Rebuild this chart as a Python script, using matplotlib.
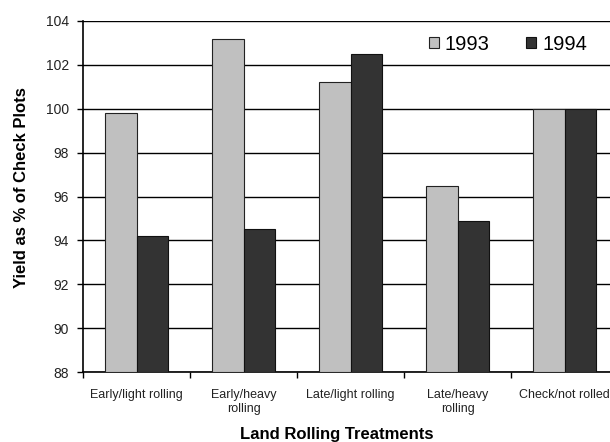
import matplotlib
matplotlib.use("Agg")
import matplotlib.pyplot as plt
import numpy as np

categories = ["Early/light rolling", "Early/heavy\nrolling", "Late/light rolling",
              "Late/heavy\nrolling", "Check/not rolled"]
y1993 = [99.8, 103.2, 101.2, 96.5, 100.0]
y1994 = [94.2, 94.5, 102.5, 94.9, 100.0]
yticks = [88, 90, 92, 94, 96, 98, 100, 102, 104]

plt.rcParams['font.family'] = ['Liberation Sans', 'DejaVu Sans']

W, H = 610, 442
fig = plt.figure(figsize=(W / 100, H / 100), dpi=100)
ax = fig.add_axes([83 / W, 1 - 372 / H, (618 - 83) / W, (372 - 21) / H])

x = np.arange(len(categories))
bw = 0.29
ax.bar(x - bw / 2, np.array(y1993) - 88, bw, bottom=88, color="#c0c0c0",
       edgecolor="#222222", linewidth=0.8, label="1993", zorder=3)
ax.bar(x + bw / 2, np.array(y1994) - 88, bw, bottom=88, color="#333333",
       edgecolor="#111111", linewidth=0.8, label="1994", zorder=3)

ax.set_xlim(-0.5, len(categories) - 0.5)
ax.set_ylim(88, 104)
ax.set_yticks(yticks)
ax.set_yticklabels([str(t) for t in yticks], fontsize=10, color="#222222")
ax.yaxis.grid(True, color="black", linewidth=1.0, zorder=0)
ax.set_axisbelow(True)

ax.set_xticks(np.arange(len(categories) + 1) - 0.5)
ax.set_xticklabels([])
ax.set_xticks(x, minor=True)
ax.set_xticklabels(categories, minor=True, fontsize=9, color="#222222",
                   linespacing=1.3)
ax.tick_params(axis="x", which="minor", length=0, pad=12)
ax.tick_params(axis="x", which="major", length=4, width=1, direction="out")
ax.tick_params(axis="y", length=4, width=1, direction="out", pad=6)

for s in ["top", "right"]:
    ax.spines[s].set_visible(False)
ax.spines["left"].set_linewidth(1.2)
ax.spines["bottom"].set_linewidth(1.2)

fig.text(22 / W, 1 - 188 / H, "Yield as % of Check Plots", rotation=90,
         ha="center", va="center", fontsize=12, fontweight="bold")
fig.text(337 / W, 1 - 434 / H, "Land Rolling Treatments", ha="center",
         va="center", fontsize=12, fontweight="bold")

leg = ax.legend(loc="center right", bbox_to_anchor=(587 / W, 1 - 44 / H),
                bbox_transform=fig.transFigure, ncol=2, frameon=False,
                fontsize=14.5, handlelength=0.5, handleheight=0.5,
                handletextpad=0.3, columnspacing=1.8, borderpad=0,
                borderaxespad=0)
for p in leg.get_patches():
    p.set_linewidth(0.8)

fig.savefig("out.png", dpi=100)
